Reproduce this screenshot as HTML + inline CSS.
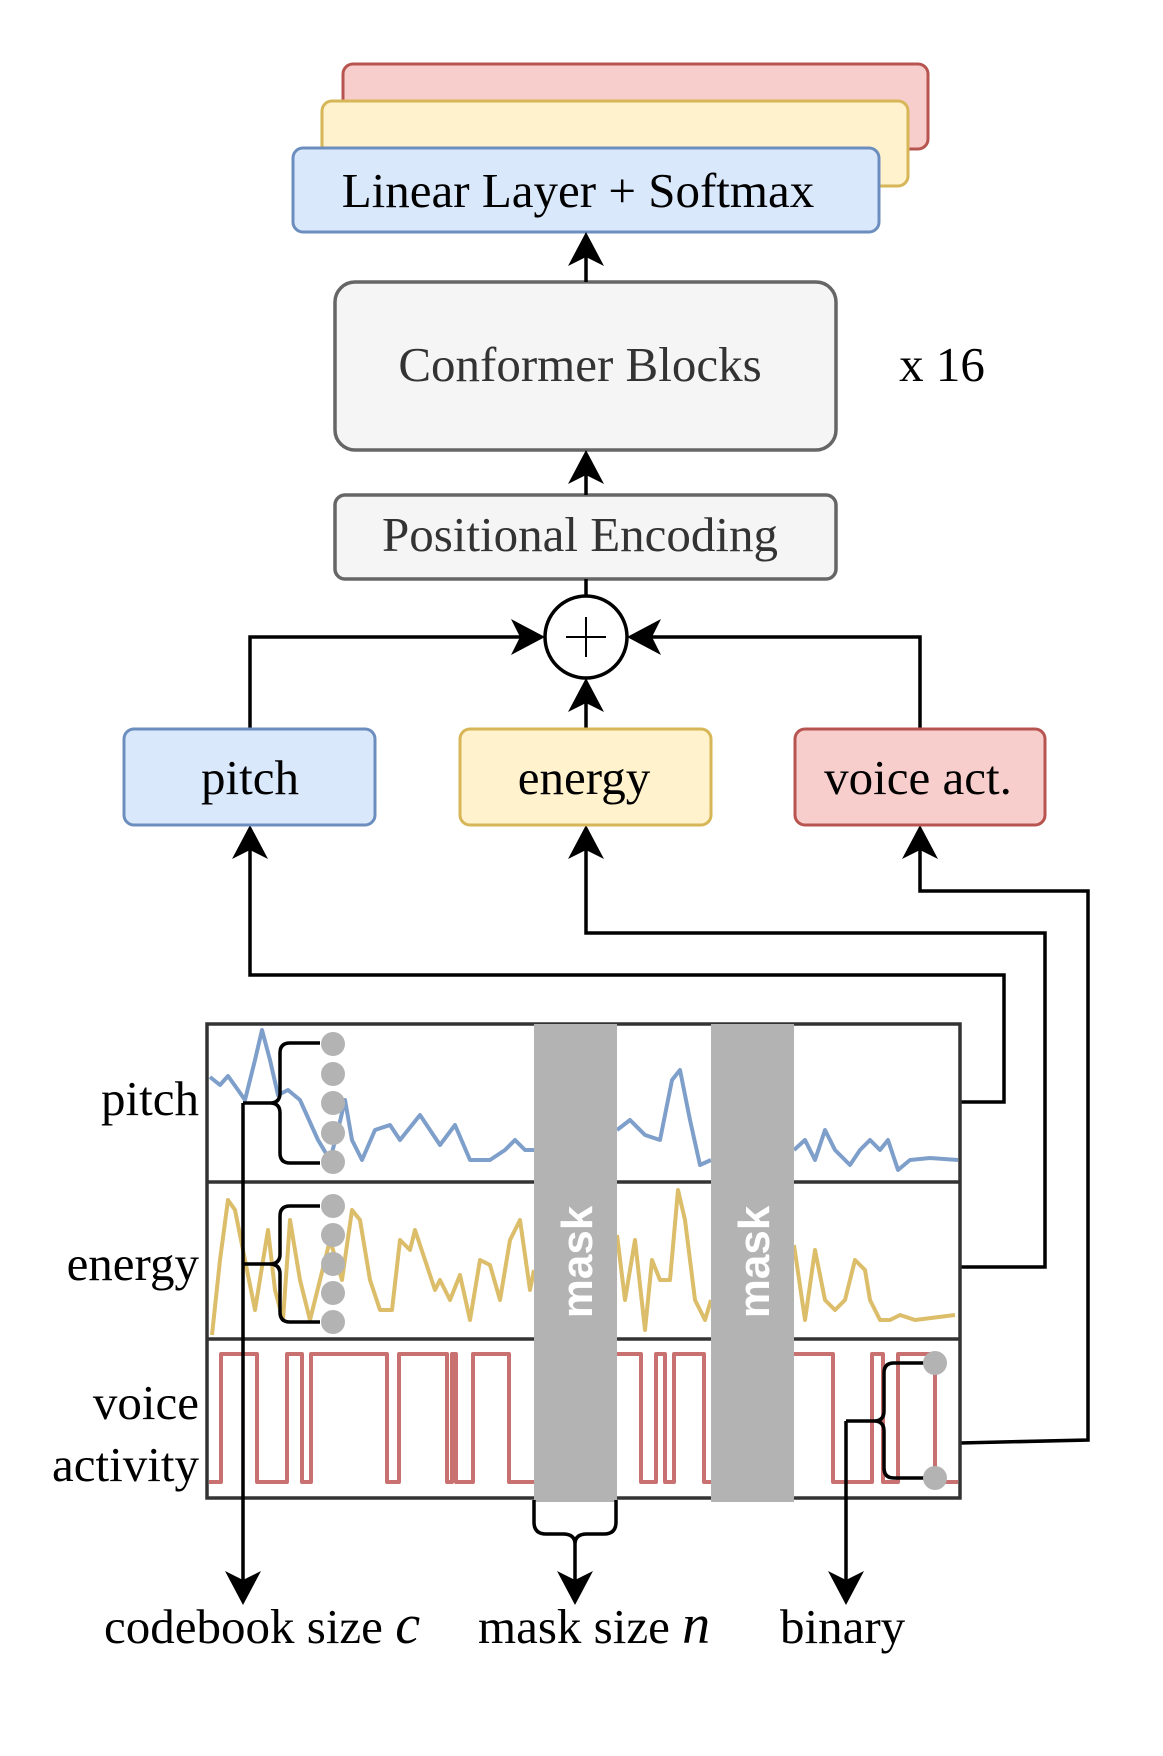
<!DOCTYPE html>
<html><head><meta charset="utf-8"><style>
body{margin:0;background:#fff}
svg{display:block}
text{font-family:"Liberation Serif",serif}
</style></head><body>
<svg width="1163" height="1756" viewBox="0 0 1163 1756" xmlns="http://www.w3.org/2000/svg">
<!-- output stack -->
<rect x="343" y="64" width="585" height="85" rx="10" fill="#f8cecc" stroke="#b85450" stroke-width="3"/>
<rect x="322" y="101" width="586" height="85" rx="10" fill="#fff2cc" stroke="#d6b656" stroke-width="3"/>
<rect x="293" y="148" width="586" height="84" rx="10" fill="#dae8fc" stroke="#6c8ebf" stroke-width="3"/>
<text x="578" y="207" font-size="49" text-anchor="middle" fill="#000">Linear Layer + Softmax</text>
<!-- conformer -->
<rect x="335" y="282" width="501" height="168" rx="20" fill="#f5f5f5" stroke="#666" stroke-width="3.5"/>
<text x="580" y="381" font-size="49" text-anchor="middle" fill="#333">Conformer Blocks</text>
<text x="942" y="381" font-size="49" text-anchor="middle" fill="#000">x 16</text>
<rect x="335" y="495" width="501" height="84" rx="10" fill="#f5f5f5" stroke="#666" stroke-width="3.5"/>
<text x="580" y="551" font-size="49" text-anchor="middle" fill="#333">Positional Encoding</text>
<!-- connectors -->
<g stroke="#000" stroke-width="3.5" fill="none">
<line x1="586" y1="282" x2="586" y2="250"/>
<line x1="586" y1="495" x2="586" y2="465"/>
<line x1="586" y1="579" x2="586" y2="596"/>
<line x1="586" y1="729" x2="586" y2="700"/>
<polyline points="250,729 250,637 525,637"/>
<polyline points="920,729 920,637 647,637"/>
<polyline points="960,1102 1004,1102 1004,975 250,975 250,850"/>
<polyline points="960,1267 1045,1267 1045,933 586,933 586,850"/>
<polyline points="960,1443 1088,1440 1088,891 920,891 920,850"/>
<circle cx="586" cy="637" r="41" fill="#fff"/>
<line x1="566" y1="637" x2="606" y2="637" stroke-width="2"/>
<line x1="586" y1="617" x2="586" y2="657" stroke-width="2"/>
</g>
<!-- arrowheads -->
<g fill="#000">
<path d="M586,232 l-18,34 l18,-9 l18,9z"/>
<path d="M586,450 l-18,34 l18,-9 l18,9z"/>
<path d="M586,678 l-18,34 l18,-9 l18,9z"/>
<path d="M545,637 l-34,-18 l9,18 l-9,18z"/>
<path d="M627,637 l34,-18 l-9,18 l9,18z"/>
<path d="M250,825 l-18,34 l18,-9 l18,9z"/>
<path d="M586,825 l-18,34 l18,-9 l18,9z"/>
<path d="M920,825 l-18,34 l18,-9 l18,9z"/>
<path d="M243,1605 l-18,-34 l18,9 l18,-9z"/>
<path d="M575,1605 l-18,-34 l18,9 l18,-9z"/>
<path d="M846,1605 l-18,-34 l18,9 l18,-9z"/>
</g>
<!-- input boxes -->
<rect x="124" y="729" width="251" height="96" rx="10" fill="#dae8fc" stroke="#6c8ebf" stroke-width="3"/>
<text x="250" y="794" font-size="49" text-anchor="middle">pitch</text>
<rect x="460" y="729" width="251" height="96" rx="10" fill="#fff2cc" stroke="#d6b656" stroke-width="3"/>
<text x="584" y="794" font-size="49" text-anchor="middle">energy</text>
<rect x="795" y="729" width="250" height="96" rx="10" fill="#f8cecc" stroke="#b85450" stroke-width="3"/>
<text x="918" y="794" font-size="49" text-anchor="middle">voice act.</text>
<!-- signals -->
<g fill="none" stroke-width="4" stroke-linejoin="round">
<polyline stroke="#7f9fcb" points="210,1077 220,1085 228,1076 238,1090 245,1100 255,1060 262,1030 270,1060 278,1095 288,1090 300,1100 318,1140 330,1160 338,1130 345,1100 352,1140 362,1160 375,1130 390,1125 400,1140 420,1115 440,1145 455,1125 470,1160 490,1160 505,1150 515,1140 525,1150 534,1150"/>
<polyline stroke="#7f9fcb" points="617,1130 630,1120 645,1135 660,1140 672,1080 680,1070 690,1120 700,1165 711,1160"/>
<polyline stroke="#7f9fcb" points="794,1150 805,1140 815,1160 825,1130 835,1150 850,1165 860,1150 870,1140 880,1150 888,1140 898,1170 910,1160 930,1158 958,1160"/>
<polyline stroke="#dbbd6a" points="212,1335 220,1260 228,1200 235,1210 245,1260 255,1310 268,1230 275,1290 283,1320 290,1220 300,1280 310,1320 320,1280 330,1240 342,1280 352,1210 360,1220 370,1280 380,1310 392,1310 400,1240 410,1250 415,1230 425,1260 435,1290 440,1280 450,1300 460,1275 470,1320 480,1260 490,1265 500,1300 510,1240 520,1220 530,1290 534,1270"/>
<polyline stroke="#dbbd6a" points="617,1235 625,1300 635,1240 645,1330 652,1260 660,1280 670,1280 678,1190 685,1220 695,1300 705,1320 711,1300"/>
<polyline stroke="#dbbd6a" points="794,1245 805,1320 815,1250 825,1300 835,1310 845,1300 855,1260 865,1270 870,1300 880,1320 890,1320 900,1315 915,1320 955,1315"/>
<polyline stroke="#c97070" points="209,1482 221,1482 221,1354 257,1354 257,1482 287,1482 287,1354 302,1354 302,1482 311,1482 311,1354 387,1354 387,1482 399,1482 399,1354 447,1354 447,1482 452,1482 452,1354 456,1354 456,1482 473,1482 473,1354 509,1354 509,1482 534,1482"/>
<polyline stroke="#c97070" points="617,1354 641,1354 641,1482 656,1482 656,1354 665,1354 665,1482 674,1482 674,1354 704,1354 704,1482 711,1482"/>
<polyline stroke="#c97070" points="794,1354 833,1354 833,1482 872,1482 872,1354 883,1354 883,1482 898,1482 898,1354 935,1354 935,1482 958,1482"/>
</g>
<!-- frame -->
<rect x="207" y="1024" width="753" height="474" fill="none" stroke="#333" stroke-width="3.5"/>
<line x1="207" y1="1182" x2="960" y2="1182" stroke="#333" stroke-width="3.5"/>
<line x1="207" y1="1339" x2="960" y2="1339" stroke="#333" stroke-width="3.5"/>
<!-- masks -->
<rect x="534" y="1024" width="83" height="478" fill="#b3b3b3"/>
<rect x="711" y="1024" width="83" height="478" fill="#b3b3b3"/>
<text transform="translate(592,1262) rotate(-90)" font-weight="bold" font-size="44" fill="#fff" text-anchor="middle" style="font-family:'Liberation Sans',sans-serif">mask</text>
<text transform="translate(769,1262) rotate(-90)" font-weight="bold" font-size="44" fill="#fff" text-anchor="middle" style="font-family:'Liberation Sans',sans-serif">mask</text>
<!-- row labels -->
<text x="199" y="1115" font-size="49" text-anchor="end">pitch</text>
<text x="199" y="1280" font-size="49" text-anchor="end">energy</text>
<text x="199" y="1419" font-size="49" text-anchor="end">voice</text>
<text x="199" y="1481" font-size="49" text-anchor="end">activity</text>
<!-- braces and dots -->
<g fill="none" stroke="#000" stroke-width="3.5">
<path d="M320,1043 h-30 q-10,0 -10,10 v40 q0,10 -10,10 h-27 M270,1103 q10,0 10,10 v40 q0,10 10,10 h30"/>
<path d="M320,1206 h-30 q-10,0 -10,10 v38 q0,10 -10,10 h-10 M270,1264 q10,0 10,10 v38 q0,10 10,10 h30"/>
<line x1="243" y1="1103" x2="243" y2="1580"/>
<line x1="243" y1="1264" x2="260" y2="1264"/>
<path d="M924,1363 h-30 q-10,0 -10,10 v38 q0,10 -10,10 h-28 M874,1421 q10,0 10,10 v37 q0,10 10,10 h30"/>
<line x1="846" y1="1421" x2="846" y2="1580"/>
<path d="M534,1500 v22 q0,12 12,12 h17 q12,0 12,10 q0,-10 12,-10 h17 q12,0 12,-12 v-22"/>
<line x1="575" y1="1544" x2="575" y2="1580"/>
</g>
<g fill="#b3b3b3">
<circle cx="333" cy="1044" r="12"/><circle cx="333" cy="1074" r="12"/><circle cx="333" cy="1103" r="12"/><circle cx="333" cy="1133" r="12"/><circle cx="333" cy="1162" r="12"/>
<circle cx="333" cy="1206" r="12"/><circle cx="333" cy="1235" r="12"/><circle cx="333" cy="1264" r="12"/><circle cx="333" cy="1293" r="12"/><circle cx="333" cy="1322" r="12"/>
<circle cx="935" cy="1363" r="12"/><circle cx="935" cy="1478" r="12"/>
</g>
<!-- bottom labels -->
<text x="104" y="1643" font-size="49">codebook size <tspan font-style="italic" font-size="56">c</tspan></text>
<text x="478" y="1643" font-size="49">mask size <tspan font-style="italic" font-size="56">n</tspan></text>
<text x="780" y="1643" font-size="49">binary</text>
</svg>
</body></html>
